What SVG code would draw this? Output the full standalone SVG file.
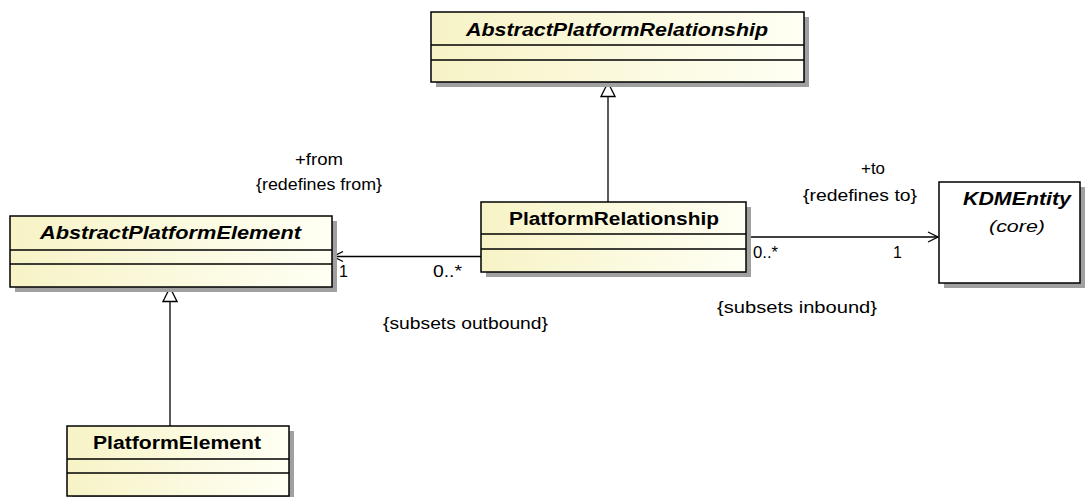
<svg xmlns="http://www.w3.org/2000/svg" width="1087" height="497" viewBox="0 0 1087 497">
<defs>
<linearGradient id="cls" x1="0" y1="0" x2="1" y2="0">
<stop offset="0" stop-color="#F7F3C6"/>
<stop offset="1" stop-color="#FFFFF4"/>
</linearGradient>
<marker id="open" viewBox="0 0 12 12" refX="11" refY="6" markerWidth="12" markerHeight="12" markerUnits="userSpaceOnUse" orient="auto">
<path d="M1,1 L11,6 L1,11" fill="none" stroke="#000" stroke-width="1.3"/>
</marker>
<marker id="gen" viewBox="0 0 16 16" refX="15" refY="8" markerWidth="16" markerHeight="16" markerUnits="userSpaceOnUse" orient="auto">
<path d="M1,1 L15,8 L1,15 Z" fill="#fff" stroke="#000" stroke-width="1.3"/>
</marker>
</defs>
<style>
.shadow{fill:#A0A0A0}
.box{fill:url(#cls);stroke:#000;stroke-width:1.5}
.plain{fill:#fff;stroke:#000;stroke-width:1.5}
.div{stroke:#000;stroke-width:1.3}
.name{font-family:"Liberation Sans",Arial,sans-serif;font-weight:bold;font-size:18px}
.abs{font-style:italic}
.lbl{font-family:"Liberation Sans",Arial,sans-serif;font-size:16px;fill:#000}
.conn{stroke:#000;stroke-width:1.3;fill:none}
</style>

<g id="connectors">
<line class="conn" x1="608" y1="202" x2="608" y2="82.5" marker-end="url(#gen)"/>
<line class="conn" x1="170" y1="426" x2="170" y2="287.5" marker-end="url(#gen)"/>
<line class="conn" x1="481" y1="256.5" x2="333" y2="256.5" marker-end="url(#open)"/>
<line class="conn" x1="746" y1="237" x2="938" y2="237" marker-end="url(#open)"/>
<text class="lbl" x="295" y="165" textLength="48" lengthAdjust="spacingAndGlyphs">+from</text>
<text class="lbl" x="256" y="190" textLength="126" lengthAdjust="spacingAndGlyphs">{redefines from}</text>
<text class="lbl" x="339" y="277">1</text>
<text class="lbl" x="433" y="277" textLength="29" lengthAdjust="spacingAndGlyphs">0..*</text>
<text class="lbl" x="383" y="329" textLength="165" lengthAdjust="spacingAndGlyphs">{subsets outbound}</text>
<text class="lbl" x="861" y="174" textLength="24" lengthAdjust="spacingAndGlyphs">+to</text>
<text class="lbl" x="803" y="201" textLength="114" lengthAdjust="spacingAndGlyphs">{redefines to}</text>
<text class="lbl" x="753" y="258" textLength="25" lengthAdjust="spacingAndGlyphs">0..*</text>
<text class="lbl" x="893" y="258">1</text>
<text class="lbl" x="717" y="313" textLength="160" lengthAdjust="spacingAndGlyphs">{subsets inbound}</text>
</g>

<g id="AbstractPlatformRelationship">
<rect class="shadow" x="436" y="17" width="373" height="70"/>
<rect class="box" x="431" y="12" width="373" height="70"/>
<line class="div" x1="431" y1="45" x2="804" y2="45"/>
<line class="div" x1="431" y1="60" x2="804" y2="60"/>
<text class="name abs" x="466" y="36" textLength="302" lengthAdjust="spacingAndGlyphs">AbstractPlatformRelationship</text>
</g>

<g id="AbstractPlatformElement">
<rect class="shadow" x="15" y="221" width="322" height="71"/>
<rect class="box" x="10" y="216" width="322" height="71"/>
<line class="div" x1="10" y1="250" x2="332" y2="250"/>
<line class="div" x1="10" y1="264" x2="332" y2="264"/>
<text class="name abs" x="40" y="239" textLength="261" lengthAdjust="spacingAndGlyphs">AbstractPlatformElement</text>
</g>

<g id="PlatformRelationship">
<rect class="shadow" x="486" y="207" width="265" height="70"/>
<rect class="box" x="481" y="202" width="265" height="70"/>
<line class="div" x1="481" y1="234" x2="746" y2="234"/>
<line class="div" x1="481" y1="249" x2="746" y2="249"/>
<text class="name" x="509" y="225" textLength="210" lengthAdjust="spacingAndGlyphs">PlatformRelationship</text>
</g>

<g id="KDMEntity">
<rect class="shadow" x="944" y="187" width="141" height="101"/>
<rect class="plain" x="939" y="182" width="141" height="101"/>
<text class="name abs" x="963" y="205" textLength="108" lengthAdjust="spacingAndGlyphs">KDMEntity</text>
<text class="lbl abs" x="989" y="232" textLength="56" lengthAdjust="spacingAndGlyphs" style="font-size:17px">(core)</text>
</g>

<g id="PlatformElement">
<rect class="shadow" x="72" y="431" width="222" height="70"/>
<rect class="box" x="67" y="426" width="222" height="70"/>
<line class="div" x1="67" y1="459" x2="289" y2="459"/>
<line class="div" x1="67" y1="473" x2="289" y2="473"/>
<text class="name" x="93" y="449" textLength="168" lengthAdjust="spacingAndGlyphs">PlatformElement</text>
</g>
</svg>
